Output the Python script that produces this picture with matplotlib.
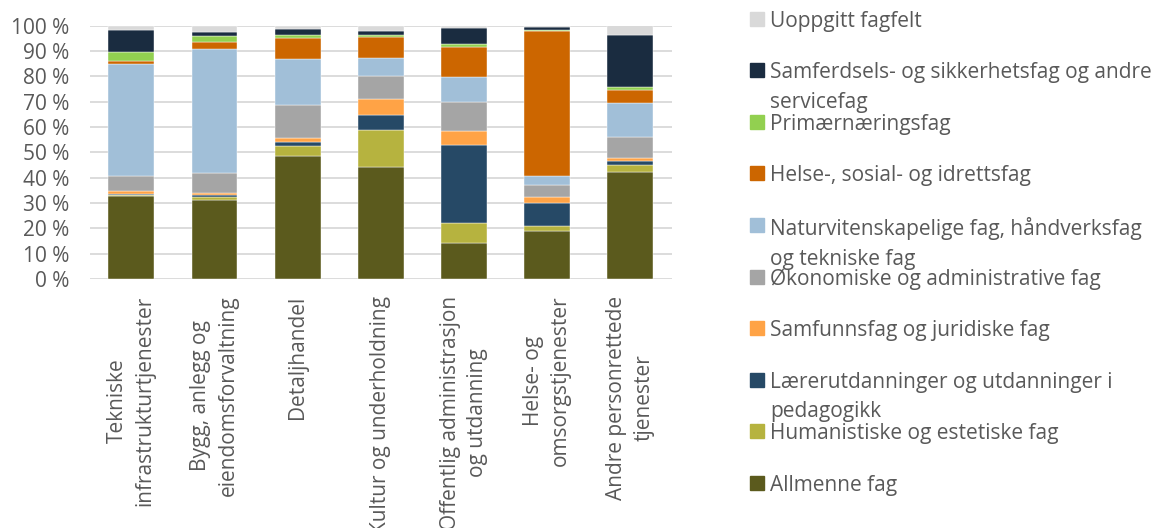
import numpy as np
import matplotlib
matplotlib.use('Agg')
from matplotlib import pyplot as plt
from matplotlib.patches import Rectangle
from matplotlib.ticker import FuncFormatter

plt.rcParams['font.family'] = ['Open Sans', 'DejaVu Sans']

categories = ['Tekniske\ninfrastrukturtjenester', 'Bygg, anlegg og\neiendomsforvaltning',
              'Detaljhandel', 'Kultur og underholdning',
              'Offentlig administrasjon\nog utdanning', 'Helse- og\nomsorgstjenester',
              'Andre personrettede\ntjenester']

# series from bottom to top (percent)
allmenne = [32.9, 31.3, 48.4, 44.3, 14.2, 19.1, 42.4]
humanistiske = [0.2, 0.9, 4.1, 14.6, 7.9, 2.0, 2.8]
laerer = [0.5, 0.8, 1.4, 5.9, 30.8, 8.8, 1.4]
samfunn = [1.0, 0.8, 1.6, 6.1, 5.7, 2.4, 1.2]
okonomi = [5.9, 8.2, 13.3, 9.2, 11.1, 4.9, 8.2]
natur = [44.2, 48.8, 18.2, 7.1, 10.1, 3.6, 13.6]
helse = [1.3, 2.8, 8.3, 8.4, 11.8, 57.0, 4.9]
primaer = [3.8, 2.5, 1.0, 0.8, 1.3, 0.5, 1.3]
samferdsel = [8.7, 1.4, 2.4, 1.7, 6.3, 1.0, 20.4]
uoppgitt = [1.5, 2.5, 1.3, 1.8, 0.8, 0.8, 3.9]

series = [allmenne, humanistiske, laerer, samfunn, okonomi, natur, helse, primaer, samferdsel, uoppgitt]
names = ['Allmenne fag', 'Humanistiske og estetiske fag',
         'Lærerutdanninger og utdanninger i\npedagogikk', 'Samfunnsfag og juridiske fag',
         'Økonomiske og administrative fag',
         'Naturvitenskapelige fag, håndverksfag\nog tekniske fag',
         'Helse-, sosial- og idrettsfag', 'Primærnæringsfag',
         'Samferdsels- og sikkerhetsfag og andre\nservicefag', 'Uoppgitt fagfelt']
colors = ['#5b5a1d', '#b6b33f', '#264966', '#ffa346', '#a5a5a5',
          '#a1bfd8', '#cc6600', '#92d050', '#1a2c40', '#d9d9d9']

text_color = '#595959'
fs = 15

fig = plt.figure(figsize=(11.52, 5.28), dpi=100)
ax = fig.add_axes([0.078, 0.4716, 0.505, 0.4797])

x = np.arange(len(categories))
bottom = np.zeros(len(categories))
for vals, col in zip(series, colors):
    ax.bar(x, vals, 0.553, bottom=bottom, color=col, edgecolor='white', linewidth=0.3, zorder=3)
    bottom += np.array(vals)

ax.set_xlim(-0.5, len(categories) - 0.5)
ax.set_ylim(0, 100)
ax.set_yticks(np.arange(0, 101, 10))
ax.yaxis.set_major_formatter(FuncFormatter(lambda v, p: f'{int(v)} %'))
ax.grid(axis='y', color='#d9d9d9', linewidth=1.3, zorder=0)
for s in ax.spines.values():
    s.set_visible(False)
ax.tick_params(axis='both', length=0, labelsize=fs, labelcolor=text_color)
ax.tick_params(axis='y', pad=15)
ax.set_xticks(x)
ax.set_xticklabels(categories, rotation=90, linespacing=1.4)
ax.tick_params(axis='x', pad=12)

# legend, drawn by hand so the wrapped labels overflow like the original
W, H = 1152, 528
for i, (name, col) in enumerate(zip(names[::-1], colors[::-1])):
    yc = 18.5 + i * 51.6
    fig.add_artist(Rectangle((750 / W, 1 - (yc + 7) / H), 14 / W, 14 / H,
                             transform=fig.transFigure, color=col))
    fig.text(770 / W, 1 - (yc - 8) / H, name, fontsize=fs, color=text_color,
             va='top', ha='left', linespacing=1.55)

fig.savefig('out.png', dpi=100)
